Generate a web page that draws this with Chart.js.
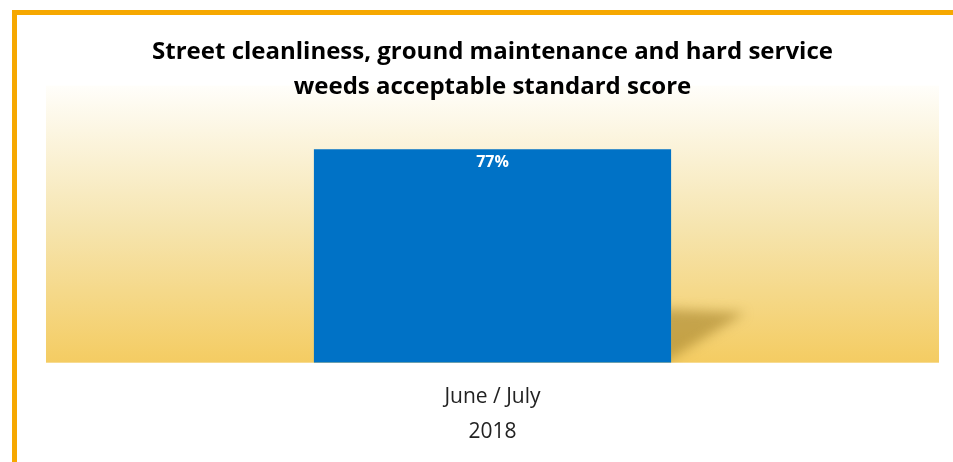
<!DOCTYPE html>
<html>
<head>
<meta charset="utf-8">
<script src="https://cdn.jsdelivr.net/npm/chart.js@4/dist/chart.umd.min.js"></script>
<style>
  body { margin: 0; background: #fff; }
  #wrap { position: relative; width: 953px; height: 462px; }
  #frame { position: absolute; left: 12px; top: 10px; right: 0; bottom: 0;
           border-top: 5px solid #F6A800; border-left: 5px solid #F6A800; pointer-events: none; }
</style>
</head>
<body>
<div id="wrap">
  <canvas id="chart" width="953" height="462"></canvas>
  <div id="frame"></div>
</div>
<script>
const titleLines = ['Street cleanliness, ground maintenance and hard service', 'weeds acceptable standard score']
const periods = [['June / July', '2018']]
const scores = [77]

const fontFam = "'Open Sans', sans-serif"

//gradient behind the plot area + the slanted shadow next to the bar
//drawn in beforeDraw so the title (2nd line sits on the gradient) stays on top
const backdrop = {
  id: 'backdrop',
  beforeDraw(chart) {
    const { ctx, chartArea: a } = chart
    const g = ctx.createLinearGradient(0, a.top, 0, a.bottom)
    g.addColorStop(0, '#FFFEFA')
    g.addColorStop(0.5, '#F6E5B0')
    g.addColorStop(1, '#F4CC62')
    ctx.save()
    ctx.fillStyle = g
    ctx.fillRect(a.left, a.top, a.right - a.left, a.bottom - a.top)
    ctx.restore()
  },
  beforeDatasetsDraw(chart) {
    const { ctx, chartArea: a } = chart
    chart.getDatasetMeta(0).data.forEach(bar => {
      const right = bar.x + bar.width / 2
      ctx.save()
      ctx.beginPath()
      ctx.rect(right, a.top, a.right - right, a.bottom - a.top)
      ctx.clip()
      ctx.filter = 'blur(6px)'
      ctx.fillStyle = 'rgba(150,115,30,0.5)'
      ctx.beginPath()
      ctx.moveTo(right - 10, bar.base - 54)
      ctx.lineTo(right + 74, bar.base - 50)
      ctx.lineTo(right - 10, bar.base + 2)
      ctx.closePath()
      ctx.fill()
      ctx.restore()
    })
  }
}

//value label inside top of bar
const valueLabels = {
  id: 'valueLabels',
  afterDatasetsDraw(chart) {
    const { ctx } = chart
    ctx.save()
    ctx.fillStyle = '#fff'
    ctx.font = "bold 16px " + fontFam
    ctx.textAlign = 'center'
    ctx.textBaseline = 'middle'
    chart.getDatasetMeta(0).data.forEach((bar, i) => {
      ctx.fillText(scores[i] + '%', bar.x, bar.y + 13)
    })
    ctx.restore()
  }
}

new Chart(document.getElementById('chart'), {
  type: 'bar',
  data: {
    labels: periods,
    datasets: [{
      data: scores,
      backgroundColor: '#0072C6',
      categoryPercentage: 0.4,
      barPercentage: 1
    }]
  },
  options: {
    responsive: false,
    animation: false,
    layout: { padding: { left: 46, right: 14, bottom: -4 } },
    scales: {
      y: { display: false, min: 0, max: 100 },
      x: {
        grid: { display: false, drawTicks: false },
        border: { display: false },
        ticks: {
          color: '#222',
          padding: 17,
          font: { family: fontFam, size: 21, lineHeight: 1.65 }
        }
      }
    },
    plugins: {
      legend: { display: false },
      tooltip: { enabled: false },
      title: {
        display: true,
        text: titleLines,
        color: '#000',
        padding: { top: 35, bottom: -19 },
        font: { family: fontFam, size: 24, weight: 'bold', lineHeight: 1.45 }
      }
    }
  },
  plugins: [backdrop, valueLabels]
})
</script>
</body>
</html>
